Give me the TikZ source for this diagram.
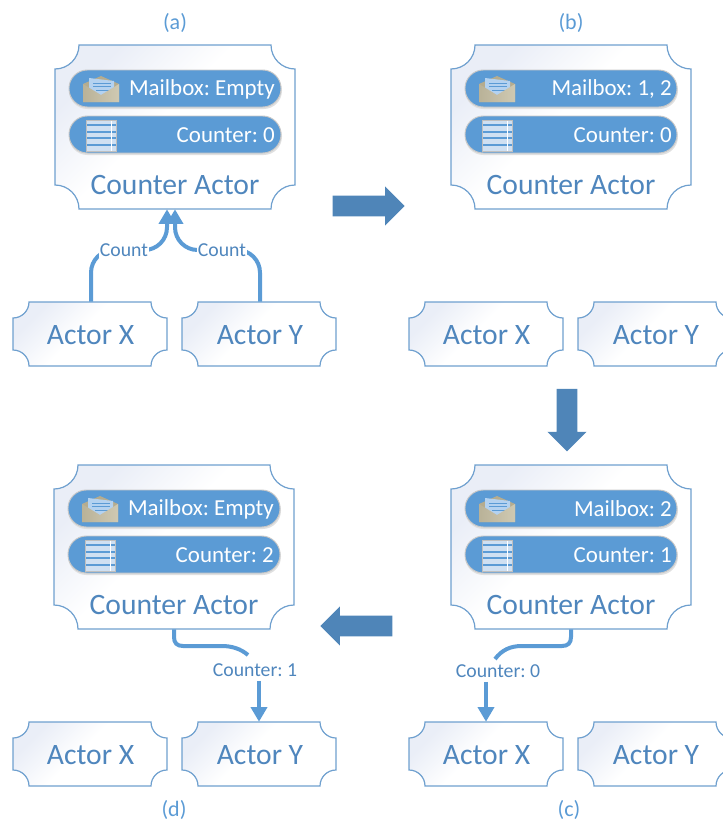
\documentclass[tikz,border=0pt]{standalone}
\usepackage{fontspec}
\setmainfont{Carlito}
\usetikzlibrary{arrows.meta,shapes.arrows}
\definecolor{lineblue}{HTML}{5B9BD5}
\definecolor{edgeblue}{HTML}{6FA0CF}
\definecolor{txtblue}{HTML}{4F86BD}
\definecolor{blockblue}{HTML}{4F85B8}
\definecolor{tint}{HTML}{EAEEF7}
\definecolor{paper}{HTML}{CFE0F2}
\definecolor{envback}{HTML}{B5AC8F}
\definecolor{envfrontl}{HTML}{B9B298}
\definecolor{envfrontr}{HTML}{CFC9B2}
\definecolor{envpaper}{HTML}{B4D2F0}
\pgfdeclarehorizontalshading{cornertint}{100bp}{color(0bp)=(tint); color(26bp)=(tint); color(46bp)=(white); color(100bp)=(white)}
\frenchspacing
\tikzset{
  boxedge/.style={draw=edgeblue,line width=0.9pt},
  bigtxt/.style={text=txtblue,font=\fontsize{22.2}{26}\selectfont,inner sep=0pt},
  pilltxt/.style={text=white,font=\fontsize{17.2}{20}\selectfont,inner sep=0pt,anchor=east},
  captxt/.style={text=lineblue,font=\fontsize{16.5}{20}\selectfont,inner sep=0pt},
  conn/.style={draw=lineblue,line width=3pt,-{Triangle[length=11pt,width=12pt]}},
  connplain/.style={draw=lineblue,line width=3pt},
  edgelbl/.style={text=txtblue,font=\fontsize{14.8}{17}\selectfont,inner sep=1pt},
  blockarrow/.style={single arrow,fill=blockblue,draw=none,inner xsep=0pt,inner ysep=7.5pt,
     minimum width=29pt,single arrow head extend=7pt,single arrow tip angle=90,minimum height=54pt},
  pillshape/.style={fill=lineblue,draw=black!22,line width=0.7pt,rounded corners=13.8pt},
  pillshadow/.style={fill=black!12,rounded corners=13.8pt}
}
% notched box: name, x0, y0, x1, y1, radius
\newcommand{\notchbox}[6]{%
  \path[boxedge,shading=cornertint,shading angle=-45]
    (#2+#6,#3) -- (#4-#6,#3) arc[start angle=180,end angle=270,radius=#6*0.75pt]
    -- (#4,#5-#6) arc[start angle=90,end angle=180,radius=#6*0.75pt]
    -- (#2+#6,#5) arc[start angle=0,end angle=90,radius=#6*0.75pt]
    -- (#2,#3+#6) arc[start angle=-90,end angle=0,radius=#6*0.75pt] -- cycle;
  \node[inner sep=0pt,minimum width={(#4-#2)*0.75pt},minimum height={(#5-#3)*0.75pt}] (#1) at ({(#2+#4)/2},{(#3+#5)/2}) {};
}
% envelope
\newcommand{\envelope}[2]{%
  \begin{scope}[shift={(#1,#2)}]
    \fill[envback] (0,7) -- (18,-1) -- (36,7) -- (36,25) -- (0,25) -- cycle;
    \fill[envpaper] (6,1) -- (31,4) -- (31,20) -- (6,20) -- cycle;
    \draw[lineblue,line width=0.5pt] (10,6) -- (28,6) (10,9.5) -- (28,9.5) (13,13) -- (26,13);
    \path[left color=envfrontl,right color=envfrontr] (0,7) -- (18,18) -- (36,7) -- (36,25) -- (0,25) -- cycle;
  \end{scope}}
% ledger icon
\newcommand{\ledger}[2]{%
  \begin{scope}[shift={(#1,#2)}]
    \fill[paper,draw=black!25,line width=0.7pt] (0,0) rectangle (30,31);
    \foreach \yy in {5,12,18,25} \draw[lineblue,line width=0.8pt] (0.5,\yy) -- (29.5,\yy);
    \draw[white,line width=0.4pt] (24.5,0.5) -- (24.5,30.5);
  \end{scope}}
% panel: name, x0, y0, mailbox text, counter text, text right edge
\newcommand{\counteractor}[6]{%
  \notchbox{#1}{#2}{#3}{#2+240}{#3+164}{24}
  \fill[pillshadow] (#2+14,#3+27) rectangle (#2+227,#3+64);
  \path[pillshape] (#2+14,#3+25) rectangle (#2+226,#3+62);
  \envelope{#2+28}{#3+32}
  \node[pilltxt] (#1mt) at (#2+#6,#3+44) {#4};
  \fill[pillshadow] (#2+14,#3+73) rectangle (#2+227,#3+110);
  \path[pillshape] (#2+14,#3+71) rectangle (#2+226,#3+108);
  \ledger{#2+31.5}{#3+75}
  \node[pilltxt] (#1ct) at (#2+#6,#3+90) {#5};
  \node[bigtxt] (#1t) at (#2+120,#3+140) {Counter Actor};
}
\newcommand{\actorpair}[4]{%
  \notchbox{#1x}{#2}{#4}{#2+154}{#4+64}{16}
  \node[bigtxt] (#1xt) at (#2+77.5,#4+33) {Actor X};
  \notchbox{#1y}{#3}{#4}{#3+154}{#4+64}{16}
  \node[bigtxt] (#1yt) at (#3+78,#4+33) {Actor Y};
}
\begin{document}
\begin{tikzpicture}[x=0.75pt,y=-0.75pt]
\useasboundingbox (0,0) rectangle (723,821);
\begin{scope}
\clip (0,0) rectangle (723,821);
\node[captxt] (capa) at (175,23) {(a)};
\node[captxt] (capb) at (571,23) {(b)};
\node[captxt] (capc) at (569,810) {(c)};
\node[captxt] (capd) at (174,810) {(d)};

\counteractor{a}{55}{45}{Mailbox: Empty}{Counter: 0}{220}
\counteractor{b}{451}{45}{Mailbox: 1, 2}{Counter: 0}{221}
\counteractor{c}{451}{465}{Mailbox: 2}{Counter: 1}{221}
\counteractor{d}{54}{465}{Mailbox: Empty}{Counter: 2}{220}

\actorpair{a}{13}{182}{302}
\actorpair{b}{409}{578}{302}
\actorpair{c}{409}{578}{722}
\actorpair{d}{13}{182}{722}

\node[blockarrow] (ab) at (363.5,206) {};
\node[blockarrow,rotate=-90,minimum height=47pt] (bc) at (567,415) {};
\node[blockarrow,rotate=180] (cd) at (361.5,626) {};

% (a) connectors
\draw[conn,rounded corners=17pt] ([xshift=0.75pt]ax.north) -- (91,250) -- (167,250) -- ([xshift=-6pt]a.south);
\draw[conn,rounded corners=17pt] ([xshift=0.75pt]ay.north) -- (260,250) -- (175,250) -- (a.south);
\node[edgelbl,fill=white] (l1) at (124,250) {Count};
\node[edgelbl,fill=white] (l2) at (222,250) {Count};

% (c) connector
\node[edgelbl] (l3) at (498,671) {Counter: 0};
\draw[connplain] (c.south) -- (571,637) .. controls (571,643) and (568,646) .. (562,646) -- (522,646) .. controls (510,646) and (502,650) .. (495,659);
\draw[conn] ([yshift=-2pt]l3.south -| cx.north) -- (cx.north);

% (d) connector
\node[edgelbl] (l4) at (255,670) {Counter: 1};
\draw[connplain] (d.south) -- (174,637) .. controls (174,643) and (177,646) .. (183,646) -- (222,646) .. controls (232,646) and (241,649) .. (248,655);
\draw[conn] ([yshift=-2pt]l4.south -| dy.north) -- (dy.north);
\end{scope}
\end{tikzpicture}
\end{document}
